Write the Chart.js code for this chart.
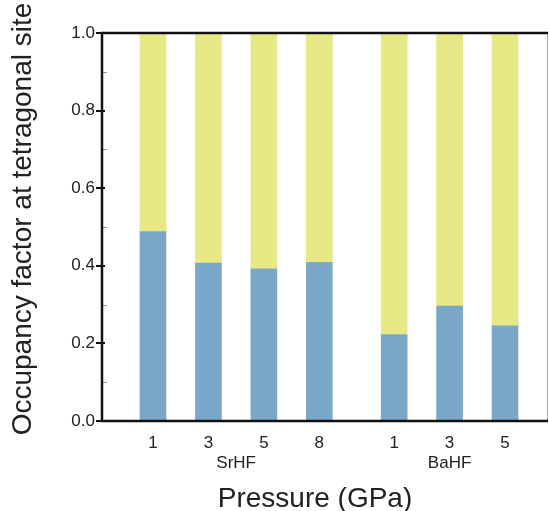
<!DOCTYPE html>
<html>
<head>
<meta charset="utf-8">
<script src="https://cdn.jsdelivr.net/npm/chart.js@4/dist/chart.umd.min.js"></script>
<style>
  html, body { margin: 0; padding: 0; background: #fff; }
  #wrap { width: 549px; height: 511px; }
</style>
</head>
<body>
<div id="wrap"><canvas id="chart"></canvas></div>
<script>
const groups = ['SrHF', 'BaHF'];
const pressureLabels = ['1', '3', '5', '8', '1', '3', '5'];
const groupOfBar = [0, 0, 0, 0, 1, 1, 1];
const lowerValues = [0.488, 0.407, 0.392, 0.409, 0.223, 0.296, 0.245];
const upperValues = [0.512, 0.593, 0.608, 0.591, 0.777, 0.704, 0.755];
const yTicks = [0, 0.2, 0.4, 0.6, 0.8, 1.0];
const yMinorTicks = [0.1, 0.3, 0.5, 0.7, 0.9];
const xTitle = 'Pressure (GPa)';
const yTitle = 'Occupancy factor at tetragonal site';

const GROUP_GAP = 1.35;
const FONT = 'Arial, "Liberation Sans", Helvetica, sans-serif';
const TEXT_COLOR = '#222';

function barX(i) {
    return groupOfBar[i] === 0 ? i : i + GROUP_GAP - 1;
}

function points(values) {
    return values.map((v, i) => ({ x: barX(i), y: v }));
}

const framePlugin = {
    id: 'frame',
    afterDraw(chart) {
        const { ctx, chartArea: a, scales: { x, y } } = chart;
        ctx.save();

        // minor ticks, inward
        ctx.strokeStyle = '#9a9a9a';
        ctx.lineWidth = 1;
        yMinorTicks.forEach(v => {
            const py = Math.round(y.getPixelForValue(v)) + 0.5;
            ctx.beginPath();
            ctx.moveTo(a.left, py);
            ctx.lineTo(a.left + 5, py);
            ctx.stroke();
        });

        // major ticks
        ctx.strokeStyle = '#111';
        ctx.lineWidth = 2;
        yTicks.forEach(v => {
            const py = Math.round(y.getPixelForValue(v));
            ctx.beginPath();
            ctx.moveTo(a.left - 6, py);
            ctx.lineTo(a.left + 3, py);
            ctx.stroke();
        });

        // right border, thin gray
        ctx.strokeStyle = '#aaa';
        ctx.lineWidth = 1;
        ctx.beginPath();
        ctx.moveTo(a.right - 0.5, a.top);
        ctx.lineTo(a.right - 0.5, a.bottom);
        ctx.stroke();

        // left, bottom and top borders
        ctx.strokeStyle = '#111';
        ctx.lineWidth = 2.5;
        ctx.beginPath();
        ctx.moveTo(a.right, a.top);
        ctx.lineTo(a.left, a.top);
        ctx.lineTo(a.left, a.bottom);
        ctx.lineTo(a.right, a.bottom);
        ctx.stroke();

        // group labels under the pressure ticks
        ctx.fillStyle = TEXT_COLOR;
        ctx.font = '17px ' + FONT;
        ctx.textAlign = 'center';
        ctx.textBaseline = 'middle';
        groups.forEach((g, gi) => {
            const idx = groupOfBar.map((v, i) => v === gi ? i : -1).filter(i => i >= 0);
            const mid = (barX(idx[0]) + barX(idx[idx.length - 1])) / 2;
            ctx.fillText(g, x.getPixelForValue(mid), a.bottom + 42);
        });

        // axis titles (the original sits slightly left of / above centre)
        ctx.font = '28px ' + FONT;
        ctx.textBaseline = 'alphabetic';
        ctx.fillText(xTitle, 315, 507);

        ctx.translate(31, 219);
        ctx.rotate(-Math.PI / 2);
        ctx.fillText(yTitle, 0, 0);

        ctx.restore();
    }
};

const ctx = document.getElementById('chart');

new Chart(ctx, {
    type: 'bar',
    data: {
        datasets: [{
            label: 'lower',
            data: points(lowerValues),
            backgroundColor: '#7ba8c8',
            barThickness: 26
        }, {
            label: 'upper',
            data: points(upperValues),
            backgroundColor: '#e6e985',
            barThickness: 26
        }]
    },
    options: {
        responsive: true,
        maintainAspectRatio: false,
        animation: false,
        layout: {
            padding: { top: 33, right: 1, left: 0, bottom: 0 }
        },
        scales: {
            x: {
                type: 'linear',
                stacked: true,
                offset: false,
                min: -0.92,
                max: 7.125,
                grid: { display: false, drawTicks: false },
                border: { display: false },
                afterBuildTicks: scale => {
                    scale.ticks = pressureLabels.map((_, i) => ({ value: barX(i) }));
                },
                afterFit: scale => { scale.height = 90; },
                ticks: {
                    autoSkip: false,
                    maxRotation: 0,
                    padding: 12,
                    color: TEXT_COLOR,
                    font: { family: FONT, size: 17 },
                    callback: (value, index) => pressureLabels[index]
                }
            },
            y: {
                stacked: true,
                min: 0,
                max: 1,
                grid: { display: false, drawTicks: false },
                border: { display: false },
                afterFit: scale => { scale.width = 102; },
                ticks: {
                    stepSize: 0.2,
                    padding: 7,
                    color: TEXT_COLOR,
                    font: { family: FONT, size: 17 },
                    callback: v => v.toFixed(1)
                }
            }
        },
        plugins: {
            legend: { display: false },
            tooltip: { enabled: false }
        }
    },
    plugins: [framePlugin]
});
</script>
</body>
</html>
